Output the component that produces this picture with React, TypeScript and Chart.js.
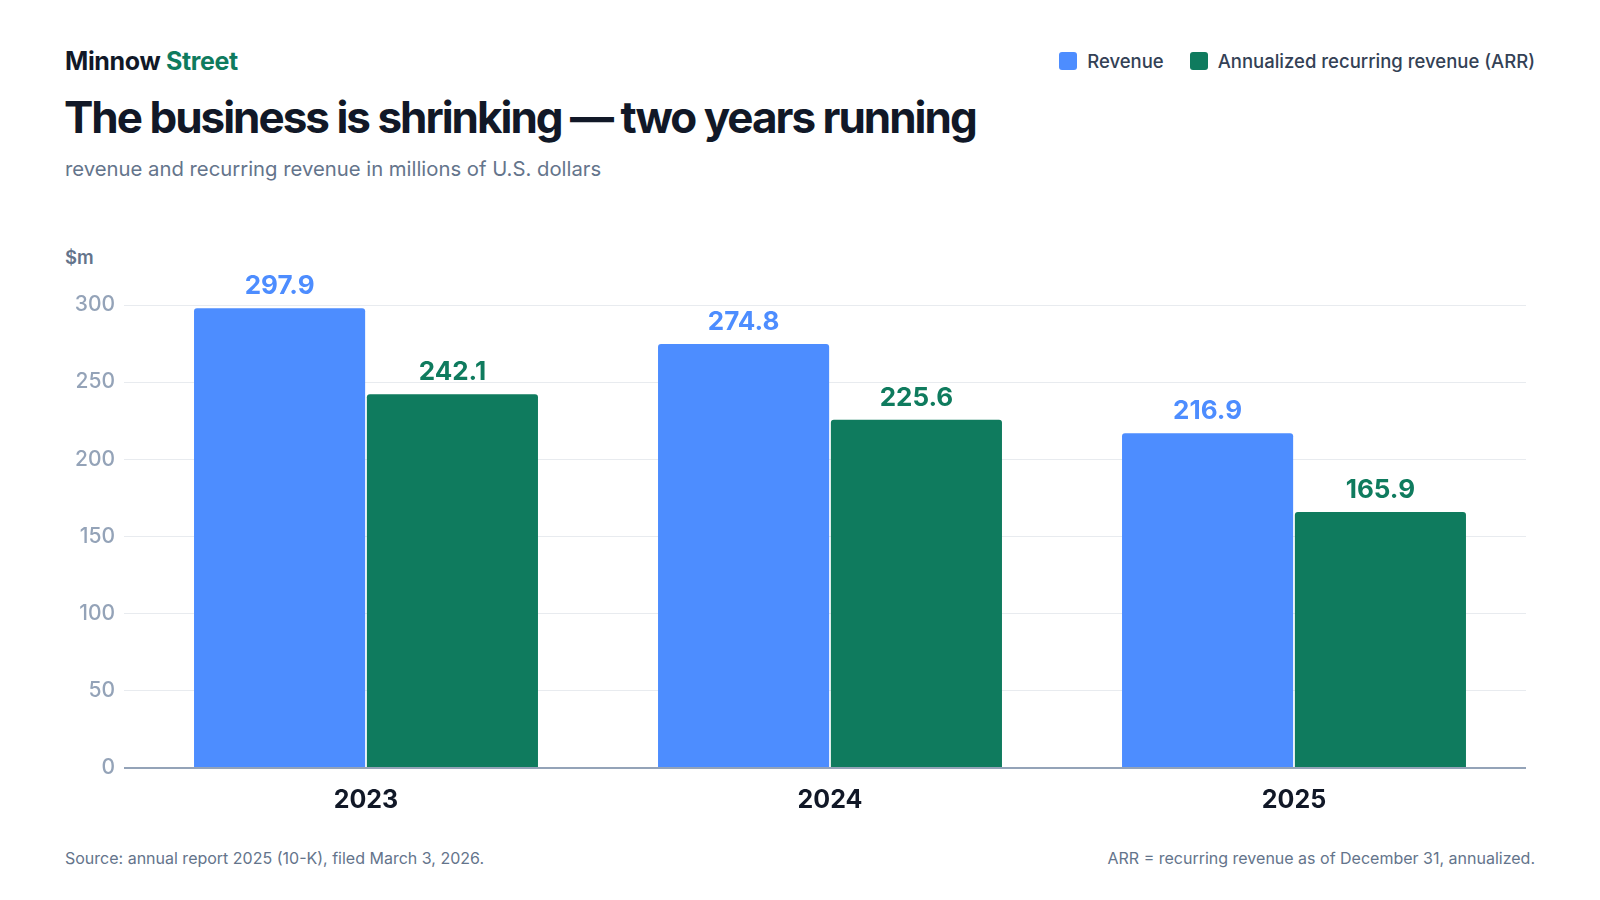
import React, { useEffect, useRef } from "react";
import { Chart, registerables } from "chart.js";

Chart.register(...registerables);

const categories = ["2023", "2024", "2025"];
const revenue = [297.9, 274.8, 216.9];
const arr = [242.1, 225.6, 165.9];
const yTicks = [0, 50, 100, 150, 200, 250, 300];
const seriesNames = ["Revenue", "Annualized recurring revenue (ARR)"];

const BLUE = "#4D8DFF";
const GREEN = "#0F7B5E";
const FONT = "Inter, 'Noto Sans', sans-serif";

const valueLabels = {
  id: "valueLabels",
  afterDatasetsDraw(chart: any) {
    const ctx = chart.ctx;
    ctx.save();
    ctx.font = `700 26px ${FONT}`;
    ctx.textAlign = "center";
    ctx.textBaseline = "alphabetic";
    chart.data.datasets.forEach((ds: any, i: number) => {
      const meta = chart.getDatasetMeta(i);
      ctx.fillStyle = ds.backgroundColor;
      meta.data.forEach((bar: any, j: number) => {
        ctx.fillText(Number(ds.data[j]).toFixed(1), bar.x, bar.y - 14);
      });
    });
    ctx.restore();
  },
};

function BarChart() {
  const ref = useRef<HTMLCanvasElement | null>(null);
  useEffect(() => {
    if (!ref.current) return;
    const chart = new Chart(ref.current, {
      type: "bar",
      data: {
        labels: categories,
        datasets: [
          {
            label: seriesNames[0],
            data: revenue,
            backgroundColor: BLUE,
            borderRadius: 3,
            borderSkipped: "start",
            categoryPercentage: 0.745,
            barPercentage: 0.99,
          },
          {
            label: seriesNames[1],
            data: arr,
            backgroundColor: GREEN,
            borderRadius: 3,
            borderSkipped: "start",
            categoryPercentage: 0.745,
            barPercentage: 0.99,
          },
        ],
      },
      options: {
        animation: false,
        responsive: false,
        maintainAspectRatio: false,
        devicePixelRatio: 1,
        layout: { padding: { top: 65, right: 74, left: 0, bottom: 0 } },
        plugins: {
          legend: { display: false },
          tooltip: { enabled: false },
          title: { display: false },
        },
        scales: {
          x: {
            grid: { display: false, drawTicks: false },
            border: { display: false },
            ticks: {
              color: "#111827",
              font: { family: FONT, size: 25, weight: "700" },
              padding: 17,
            },
            afterFit(scale: any) {
              scale.height = 72;
            },
          },
          y: {
            min: 0,
            max: 300,
            afterBuildTicks(scale: any) {
              scale.ticks = yTicks.map((v) => ({ value: v }));
            },
            border: { display: false },
            grid: {
              color: (c: any) => (c.tick && c.tick.value === 0 ? "#94A3B8" : "#E8EBEF"),
              tickColor: (c: any) => (c.tick && c.tick.value === 0 ? "#94A3B8" : "#E8EBEF"),
              lineWidth: (c: any) => (c.tick && c.tick.value === 0 ? 2 : 1),
              tickLength: 10,
              drawTicks: true,
            },
            ticks: {
              color: "#94A3B8",
              font: { family: FONT, size: 21, weight: "500" },
              padding: 9,
            },
            afterFit(scale: any) {
              scale.width = 134;
            },
          },
        },
      },
      plugins: [valueLabels],
    });
    return () => chart.destroy();
  }, []);
  return (
    <canvas
      ref={ref}
      width={1600}
      height={600}
      style={{ position: "absolute", left: 0, top: 240, width: 1600, height: 600 }}
    />
  );
}

export default function App() {
  const base: React.CSSProperties = {
    position: "absolute",
    fontFamily: FONT,
    lineHeight: 1,
    whiteSpace: "nowrap",
    margin: 0,
  };
  return (
    <div
      style={{
        position: "fixed",
        left: 0,
        top: 0,
        width: 1600,
        height: 900,
        background: "#ffffff",
        overflow: "hidden",
      }}
    >
      <div style={{ ...base, left: 65, top: 49, fontSize: 25, fontWeight: 700, color: "#111827", letterSpacing: -0.35 }}>
        Minnow <span style={{ color: GREEN }}>Street</span>
      </div>
      <div style={{ ...base, left: 64, top: 95, fontSize: 44, fontWeight: 700, color: "#111827", letterSpacing: -2.0 }}>
        The business is shrinking — two years running
      </div>
      <div style={{ ...base, left: 65, top: 159, fontSize: 20.3, fontWeight: 400, color: "#64748B" }}>
        revenue and recurring revenue in millions of U.S. dollars
      </div>
      <div style={{ ...base, right: 65, top: 52, display: "flex", alignItems: "center", fontSize: 18.5, fontWeight: 500, color: "#334155" }}>
        <span style={{ display: "inline-block", width: 18, height: 18, borderRadius: 3, background: BLUE, marginRight: 10 }} />
        <span style={{ marginRight: 26 }}>{seriesNames[0]}</span>
        <span style={{ display: "inline-block", width: 18, height: 18, borderRadius: 3, background: GREEN, marginRight: 10 }} />
        <span>{seriesNames[1]}</span>
      </div>
      <div style={{ ...base, left: 65, top: 248, fontSize: 18.5, fontWeight: 600, color: "#64748B" }}>$m</div>
      <BarChart />
      <div style={{ ...base, left: 65, top: 850, fontSize: 16, fontWeight: 400, color: "#64748B" }}>
        Source: annual report 2025 (10-K), filed March 3, 2026.
      </div>
      <div style={{ ...base, right: 65, top: 850, fontSize: 16, fontWeight: 400, color: "#64748B" }}>
        ARR = recurring revenue as of December 31, annualized.
      </div>
    </div>
  );
}
